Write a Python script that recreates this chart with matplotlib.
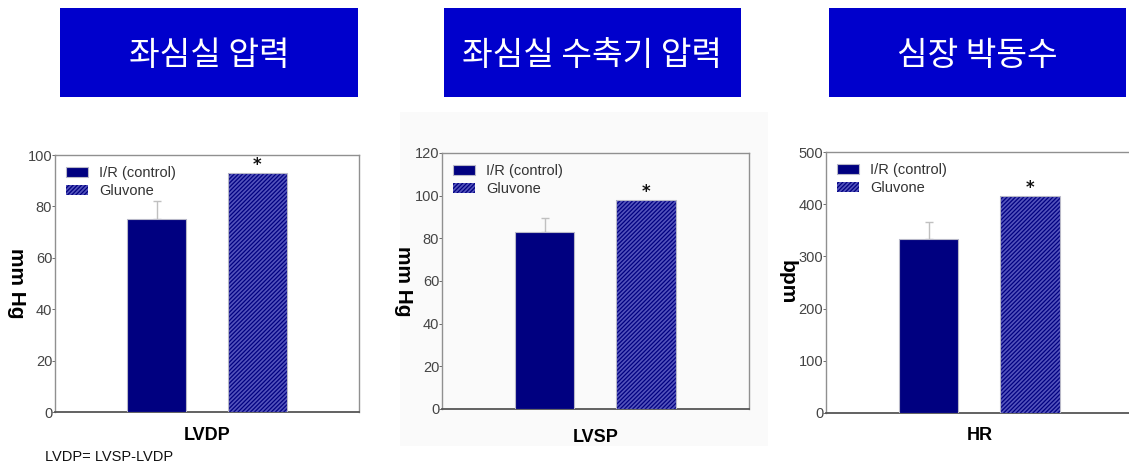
import matplotlib
matplotlib.use("Agg")
import matplotlib.pyplot as plt
from matplotlib.patches import Rectangle

W, H = 1129, 470

# ---- data ----
titles = ["좌심실 압력", "좌심실 수축기 압력", "심장 박동수"]
xlabels = ["LVDP", "LVSP", "HR"]
ylabels = ["mm Hg", "mm Hg", "bpm"]
series = ["I/R (control)", "Gluvone"]
control_vals = [75, 83, 333]
control_err = [7, 6.5, 33]
gluvone_vals = [93, 98, 416]
ymax = [100, 120, 500]
ystep = [20, 20, 100]
note = "LVDP= LVSP-LVDP"

# ---- layout (pixels) ----
boxes = [(60, 8, 298, 89), (444, 8, 297, 89), (829, 8, 297, 89)]
axes_px = [(55, 155, 359, 412), (442, 153, 749, 409), (826, 152, 1133, 413)]
ylabel_x = [16, 404, 787]
xlabel_y = [435, 437, 435]
bar_pos = [0.334, 0.665]
bar_w = 0.195

plt.rcParams["hatch.linewidth"] = 0.9
NAVY = "#000080"
fig = plt.figure(figsize=(W / 100, H / 100), dpi=100)
fig.patch.set_facecolor("white")

# faint background around middle panel
fig.add_artist(Rectangle((400 / W, 1 - 446 / H), 368 / W, 334 / H,
                         transform=fig.transFigure, facecolor="#fafafa",
                         edgecolor="none", zorder=0))

for (x, y, w, h), t in zip(boxes, titles):
    fig.add_artist(Rectangle((x / W, 1 - (y + h) / H), w / W, h / H,
                             transform=fig.transFigure, facecolor="#0000CC",
                             edgecolor="none"))
    fig.text((x + w / 2) / W, 1 - (y + h / 2 + 3) / H, t, color="white",
             fontsize=24, ha="center", va="center",
             family=["Noto Sans CJK KR", "DejaVu Sans"], fontweight="light")

tick_font = ["Liberation Sans Narrow", "Liberation Sans", "DejaVu Sans"]

for i in range(3):
    l, t_, r, b = axes_px[i]
    ax = fig.add_axes([l / W, 1 - b / H, (r - l) / W, (b - t_) / H])
    ax.set_xlim(0, 1)
    ax.set_ylim(0, ymax[i])
    ax.patch.set_alpha(0)
    x0, x1 = bar_pos
    ax.bar([x0], [control_vals[i]], width=bar_w, color=NAVY,
           edgecolor="#b8b8c8", linewidth=0.8, zorder=3, label=series[0])
    ax.errorbar([x0], [control_vals[i]], yerr=[[0], [control_err[i]]],
                fmt="none", ecolor="#c0c0c0", elinewidth=1, capsize=3,
                capthick=1, zorder=2)
    ax.bar([x1], [gluvone_vals[i]], width=bar_w, color="#5454bc",
           edgecolor=NAVY, hatch="////////", linewidth=0, zorder=3,
           label=series[1])
    ax.bar([x1], [gluvone_vals[i]], width=bar_w, fill=False,
           edgecolor="#b8b8c8", linewidth=0.8, zorder=4)
    ax.annotate("*", (x1, gluvone_vals[i]), xytext=(0, -1),
                textcoords="offset points", ha="center", va="bottom",
                fontsize=12, fontweight="bold", color="#111111")
    ax.set_yticks(range(0, ymax[i] + 1, ystep[i]))
    ax.set_xticks([])
    ax.tick_params(axis="y", length=2, width=0.6, pad=0, colors="#555555",
                   labelsize=10.5)
    for lab in ax.get_yticklabels():
        lab.set_family(tick_font)
        lab.set_color("#444444")
    for s in ax.spines.values():
        s.set_color("#909090")
        s.set_linewidth(1)
    ax.spines["bottom"].set_color("#555555")
    ax.spines["bottom"].set_linewidth(1.3)
    ax.set_xlabel(xlabels[i], fontsize=13, fontweight="bold",
                  family=["Liberation Sans", "DejaVu Sans"], va="center")
    ax.xaxis.set_label_coords(0.5, -(xlabel_y[i] - b) / (b - t_))
    ax.set_ylabel(ylabels[i], fontsize=15, fontweight="bold", rotation=270,
                  family=["Liberation Sans", "DejaVu Sans"],
                  va="center", ha="center")
    ax.yaxis.set_label_coords((ylabel_x[i] - l) / (r - l), 0.5)
    leg = ax.legend(loc="upper left", frameon=False,
                    handlelength=1.5, handleheight=0.7, labelspacing=0.3,
                    borderaxespad=0.35, handletextpad=0.8,
                    prop={"family": ["Liberation Sans", "DejaVu Sans"],
                          "size": 10.5})
    for txt in leg.get_texts():
        txt.set_color("#333333")
    if i == 0:
        fig.text(45 / W, 1 - 457 / H, note, fontsize=10.5, va="center",
                 ha="left", family=["Liberation Sans", "DejaVu Sans"],
                 color="#111111")

fig.savefig("out.png", dpi=100)
